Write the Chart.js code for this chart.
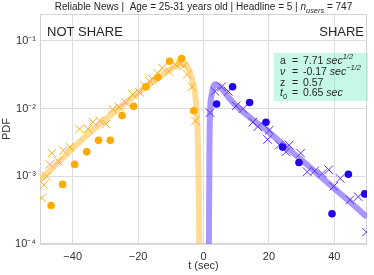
<!DOCTYPE html>
<html>
<head>
<meta charset="utf-8">
<script src="https://cdn.jsdelivr.net/npm/chart.js@4/dist/chart.umd.min.js"></script>
<style>
  html, body { margin: 0; padding: 0; background: #fff; }
  #wrap { width: 374px; height: 275px; }
</style>
</head>
<body>
<div id="wrap"><canvas id="chart" width="374" height="275"></canvas></div>
<script>
// NOT SHARE side (t < 0)
const notShareFitT = [-50, -45, -40, -35, -30, -25, -20, -15, -12, -9, -7, -6, -5, -4, -3, -2.2, -1.8, -1.55, -1.3, -1.15]
const notShareFitP = [8.9e-4, 1.5e-3, 2.6e-3, 4.3e-3, 6.9e-3, 1.1e-2, 1.7e-2, 2.6e-2, 3.3e-2, 4.1e-2, 4.6e-2, 4.6e-2, 4.2e-2, 3.3e-2, 2.1e-2, 1.1e-2, 4.5e-3, 1.2e-3, 1e-4, 1e-6]

const notShareCrossT = [-49.5, -48.8, -48.0, -47.0, -46.4, -44.4, -42.9, -40.9, -37.9, -35.3, -33.8, -31.8, -29.8, -27.8, -25.8, -23.8, -21.7, -19.6, -18.0, -16.6, -15.6, -14.0, -12.6, -10.6, -8.6, -7.3, -6.0, -5.0, -3.5, -2.5]
const notShareCrossP = [4.8e-4, 7.5e-4, 1.0e-3, 1.5e-3, 2.2e-3, 1.66e-3, 2.4e-3, 2.7e-3, 5.0e-3, 5.0e-3, 6.3e-3, 6.6e-3, 5.9e-3, 9.8e-3, 1.05e-2, 1.23e-2, 1.62e-2, 1.74e-2, 2.2e-2, 2.57e-2, 2.7e-2, 3.3e-2, 4.0e-2, 3.55e-2, 4.5e-2, 4.6e-2, 4.3e-2, 3.2e-2, 2.1e-2, 6.6e-3]

const notShareDotT = [-46.6, -43.1, -39.4, -35.7, -32.1, -28.5, -24.9, -21.4, -17.6, -14.0, -10.4, -6.7, -3.0]
const notShareDotP = [3.7e-4, 7.6e-4, 1.5e-3, 2.3e-3, 3.4e-3, 3.4e-3, 7.9e-3, 1.08e-2, 2.1e-2, 2.9e-2, 5.0e-2, 5.5e-2, 9.3e-3]

// SHARE side (t > 0)
const shareFitT = [1.5, 1.65, 1.8, 2.0, 2.4, 2.9, 3.5, 5, 7.5, 10, 15, 20, 25, 30, 35, 40, 45, 50]
const shareFitP = [1e-6, 1e-4, 2e-3, 9e-3, 1.5e-2, 2.0e-2, 2.3e-2, 2.1e-2, 1.5e-2, 1.1e-2, 6.9e-3, 4.5e-3, 2.75e-3, 1.74e-3, 1.07e-3, 6.6e-4, 4.1e-4, 2.5e-4]

const shareCrossT = [2.0, 3.5, 5.5, 7.6, 10.0, 12.1, 15.1, 16.6, 19.6, 20.1, 23.2, 25.2, 26.2, 29.7, 31.7, 34.0, 36.3, 38.3, 39.8, 41.8, 44.8, 47.3, 49.8]
const shareCrossP = [8.7e-3, 1.8e-2, 2.1e-2, 1.8e-2, 1.1e-2, 1.0e-2, 6.3e-3, 5.4e-3, 3.5e-3, 4.8e-3, 2.9e-3, 2.3e-3, 2.9e-3, 2.2e-3, 1.17e-3, 1.2e-3, 1.1e-3, 1.25e-3, 7.1e-4, 9.3e-4, 4.5e-4, 5.0e-4, 1.5e-4]

const shareDotT = [4.0, 8.9, 14.1, 19.1, 24.2, 29.2, 39.3, 44.3, 49.3]
const shareDotP = [1.17e-2, 2.1e-2, 1.23e-2, 6.3e-3, 2.7e-3, 1.6e-3, 2.8e-4, 1.07e-3, 5.5e-4]

// axes
const xTicks = [-40, -20, 0, 20, 40]
const yTicks = [1e-4, 1e-3, 1e-2, 1e-1]
const yTickLabels = ['10\u207B\u2074', '10\u207B\u00B3', '10\u207B\u00B2', '10\u207B\u00B9']

// fit parameters shown in the box
const paramNames = ['a', '\u03BD', 'z', 't']
const paramValues = ['7.71', '-0.17', '0.57', '0.65']

const FONT = '"Liberation Sans", Arial, sans-serif'

function pts(xs, ys) {
  return xs.map((x, i) => ({ x: x, y: ys[i] }))
}

function drawRuns(ctx, x, y, runs) {
  runs.forEach(r => {
    ctx.font = (r.italic ? 'italic ' : '') + r.size + 'px ' + FONT
    ctx.fillText(r.text, x, y + (r.dy || 0))
    x += ctx.measureText(r.text).width
  })
  return x
}

const decorations = {
  id: 'decorations',
  beforeDatasetsDraw(chart) {
    const ctx = chart.ctx
    const a = chart.chartArea
    ctx.save()
    ctx.strokeStyle = '#d4d4d4'
    ctx.lineWidth = 1
    ctx.strokeRect(a.left + 0.5, a.top + 0.5, a.right - a.left - 1, a.bottom - a.top - 1)

    // parameter box
    ctx.fillStyle = 'rgba(127, 240, 200, 0.45)'
    ctx.fillRect(274, 53, 94, 48)
    ctx.restore()
  },
  afterDraw(chart) {
    const ctx = chart.ctx
    const a = chart.chartArea
    ctx.save()
    ctx.fillStyle = '#262626'
    ctx.textBaseline = 'alphabetic'

    // title
    const s = 10
    const runs = [
      { text: 'Reliable News |  Age = 25-31 years old | Headline = 5 | ', size: s },
      { text: 'n', size: s, italic: true },
      { text: 'users', size: 7.4, italic: true, dy: 2.5 },
      { text: ' = 747', size: s }
    ]
    let w = 0
    runs.forEach(r => {
      ctx.font = (r.italic ? 'italic ' : '') + r.size + 'px ' + FONT
      w += ctx.measureText(r.text).width
    })
    drawRuns(ctx, (a.left + a.right) / 2 - w / 2, 10, runs)

    // side labels
    ctx.font = '13px ' + FONT
    ctx.textAlign = 'left'
    ctx.fillText('NOT SHARE', 47, 36)
    ctx.textAlign = 'right'
    ctx.fillText('SHARE', 364, 36)
    ctx.textAlign = 'left'

    // parameter text
    const ps = 10.5
    const ys = [64, 75, 85.5, 96]
    const xName = 280, xEq = 292, xVal = 303
    // a
    drawRuns(ctx, xName, ys[0], [{ text: paramNames[0], size: ps }])
    drawRuns(ctx, xEq, ys[0], [{ text: '=', size: ps }])
    drawRuns(ctx, xVal, ys[0], [
      { text: paramValues[0] + ' ', size: ps },
      { text: 'sec', size: ps, italic: true },
      { text: '1/2', size: 7.5, italic: true, dy: -5 }
    ])
    // nu
    drawRuns(ctx, xName, ys[1], [{ text: paramNames[1], size: ps, italic: true }])
    drawRuns(ctx, xEq, ys[1], [{ text: '=', size: ps }])
    drawRuns(ctx, xVal, ys[1], [
      { text: paramValues[1] + ' ', size: ps },
      { text: 'sec', size: ps, italic: true },
      { text: '\u22121/2', size: 7.5, italic: true, dy: -5 }
    ])
    // z
    drawRuns(ctx, xName, ys[2], [{ text: paramNames[2], size: ps }])
    drawRuns(ctx, xEq, ys[2], [{ text: '=', size: ps }])
    drawRuns(ctx, xVal, ys[2], [{ text: paramValues[2], size: ps }])
    // t0
    drawRuns(ctx, xName, ys[3], [
      { text: paramNames[3], size: ps, italic: true },
      { text: '0', size: 7.5, dy: 2.5 }
    ])
    drawRuns(ctx, xEq, ys[3], [{ text: '=', size: ps }])
    drawRuns(ctx, xVal, ys[3], [
      { text: paramValues[3] + ' ', size: ps },
      { text: 'sec', size: ps, italic: true }
    ])
    ctx.restore()
  }
}

const ctx = document.getElementById('chart').getContext('2d')

new Chart(ctx, {
  type: 'scatter',
  data: {
    datasets: [
      {
        type: 'line',
        data: pts(notShareFitT, notShareFitP),
        borderColor: 'rgba(255, 195, 80, 0.6)',
        borderWidth: 6,
        pointRadius: 0,
        cubicInterpolationMode: 'monotone',
        order: 3
      },
      {
        type: 'line',
        data: pts(shareFitT, shareFitP),
        borderColor: 'rgba(125, 95, 255, 0.65)',
        borderWidth: 6,
        pointRadius: 0,
        cubicInterpolationMode: 'monotone',
        order: 3
      },
      {
        data: pts(notShareCrossT, notShareCrossP),
        pointStyle: 'crossRot',
        pointRadius: 6,
        borderColor: '#ffaa1a',
        borderWidth: 1,
        order: 2
      },
      {
        data: pts(shareCrossT, shareCrossP),
        pointStyle: 'crossRot',
        pointRadius: 6,
        borderColor: '#5a2cff',
        borderWidth: 1,
        order: 2
      },
      {
        data: pts(notShareDotT, notShareDotP),
        pointStyle: 'circle',
        pointRadius: 3.8,
        backgroundColor: '#ffaa00',
        borderWidth: 0,
        order: 1
      },
      {
        data: pts(shareDotT, shareDotP),
        pointStyle: 'circle',
        pointRadius: 3.8,
        backgroundColor: '#2200ee',
        borderWidth: 0,
        order: 1
      }
    ]
  },
  options: {
    responsive: false,
    animation: false,
    events: [],
    layout: {
      padding: { top: 14, right: 3, left: 0, bottom: 0 }
    },
    plugins: {
      legend: { display: false },
      tooltip: { enabled: false }
    },
    scales: {
      x: {
        type: 'linear',
        min: -50,
        max: 50,
        afterBuildTicks: scale => {
          scale.ticks = xTicks.map(v => ({ value: v }))
        },
        afterFit: scale => {
          scale.height = 31
        },
        grid: {
          color: '#dcdcdc',
          drawTicks: false
        },
        border: { display: false },
        ticks: {
          padding: 6,
          color: '#333',
          font: { family: FONT, size: 11 },
          callback: v => (v < 0 ? '\u2212' + Math.abs(v) : '' + v)
        },
        title: {
          display: true,
          text: 't (sec)',
          color: '#333',
          font: { family: FONT, size: 11 },
          padding: { top: 0, bottom: 2 }
        }
      },
      y: {
        type: 'logarithmic',
        min: 1e-4,
        max: 0.25,
        afterBuildTicks: scale => {
          scale.ticks = yTicks.map(v => ({ value: v }))
        },
        afterFit: scale => {
          scale.width = 40
        },
        grid: {
          color: '#dcdcdc',
          drawTicks: false
        },
        border: { display: false },
        ticks: {
          padding: 4,
          color: '#333',
          font: { family: FONT, size: 11 },
          callback: v => yTickLabels[yTicks.indexOf(v)]
        },
        title: {
          display: true,
          text: 'PDF',
          color: '#333',
          font: { family: FONT, size: 11 },
          padding: { top: 0, bottom: 0 }
        }
      }
    }
  },
  plugins: [decorations]
})
</script>
</body>
</html>
